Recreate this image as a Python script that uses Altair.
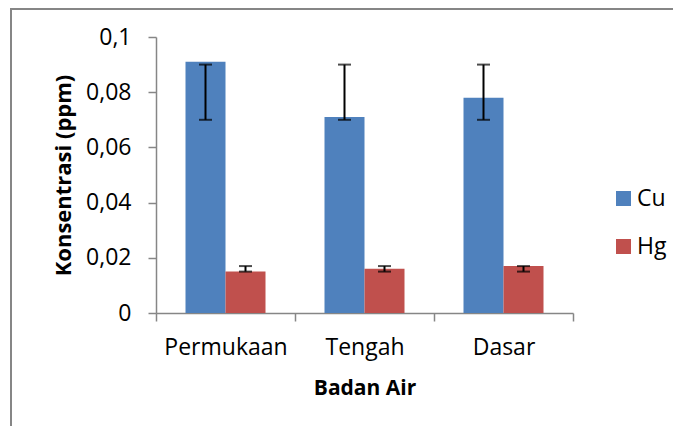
import altair as alt
import pandas as pd

categories = ["Permukaan", "Tengah", "Dasar"]
series = ["Cu", "Hg"]
cu_values = [0.091, 0.071, 0.078]
cu_low = [0.070, 0.070, 0.070]
cu_high = [0.090, 0.090, 0.090]
hg_values = [0.015, 0.016, 0.017]
hg_low = [0.015, 0.015, 0.015]
hg_high = [0.017, 0.017, 0.017]
y_ticks = [0, 0.02, 0.04, 0.06, 0.08, 0.1]
colors = ["#4F81BD", "#C0504D"]

rows = []
for i, c in enumerate(categories):
    rows.append({"cat": c, "s": "Cu", "v": cu_values[i], "lo": cu_low[i], "hi": cu_high[i]})
    rows.append({"cat": c, "s": "Hg", "v": hg_values[i], "lo": hg_low[i], "hi": hg_high[i]})
df = pd.DataFrame(rows)

FONT = "Open Sans"
GRAY = "#868686"

x_enc = alt.X("cat:N", sort=categories,
              scale=alt.Scale(paddingInner=0, paddingOuter=0),
              axis=alt.Axis(title="Badan Air", labelAngle=0, tickBand="extent",
                            tickSize=8, labelPadding=15, titlePadding=18,
                            domainColor=GRAY, tickColor=GRAY, domainWidth=1.5, tickWidth=1.5,
                            labelFont=FONT, labelFontSize=23, labelColor="black",
                            titleFont=FONT, titleFontSize=21, titleFontWeight="bold",
                            titleColor="black"))
xo_enc = alt.XOffset("s:N", sort=series,
                     scale=alt.Scale(paddingOuter=0.7375, paddingInner=0))

y_scale = alt.Scale(domain=[0, 0.1], nice=False)

base = alt.Chart(df).encode(x=x_enc, xOffset=xo_enc)

bars = base.mark_bar().encode(
    y=alt.Y("v:Q", scale=y_scale,
            axis=alt.Axis(title="Konsentrasi (ppm)", values=y_ticks, grid=False,
                          labelExpr="replace(format(datum.value, '.2~f'), '.', ',')",
                          tickSize=8, labelPadding=17, titlePadding=10,
                          domainColor=GRAY, tickColor=GRAY, domainWidth=1.5, tickWidth=1.5,
                          labelFont=FONT, labelFontSize=23, labelColor="black",
                          titleFont=FONT, titleFontSize=22, titleFontWeight="bold",
                          titleColor="black")),
    color=alt.Color("s:N", sort=series, scale=alt.Scale(domain=series, range=colors),
                    legend=alt.Legend(title=None, orient="none", legendX=456, legendY=150,
                                      symbolType="square", symbolSize=225,
                                      symbolStrokeWidth=0, labelFont=FONT,
                                      labelFontSize=23, labelColor="black",
                                      labelOffset=2, rowPadding=24, padding=0)),
)

err = base.mark_rule(color="black", strokeWidth=2).encode(
    y=alt.Y("lo:Q", scale=y_scale), y2="hi:Q")
cap_lo = base.mark_tick(color="black", thickness=2, size=13, orient="horizontal").encode(
    y=alt.Y("lo:Q", scale=y_scale))
cap_hi = base.mark_tick(color="black", thickness=2, size=13, orient="horizontal").encode(
    y=alt.Y("hi:Q", scale=y_scale))

frame_df = pd.DataFrame({"a": [0]})
frame_left = alt.Chart(frame_df).mark_rule(color=GRAY, strokeWidth=2).encode(
    x=alt.value(-145), y=alt.value(-29), y2=alt.value(420))
frame_top = alt.Chart(frame_df).mark_rule(color=GRAY, strokeWidth=2).encode(
    x=alt.value(-146), x2=alt.value(560), y=alt.value(-28))

chart = alt.layer(bars, err, cap_lo, cap_hi, frame_left, frame_top).properties(
    width=417, height=276,
    autosize=alt.AutoSizeParams(type="none"),
    padding={"left": 148, "top": 29, "right": 100, "bottom": 113},
).configure_view(stroke=None)

chart.save("out.html", embed_options={"renderer": "svg", "actions": False})
